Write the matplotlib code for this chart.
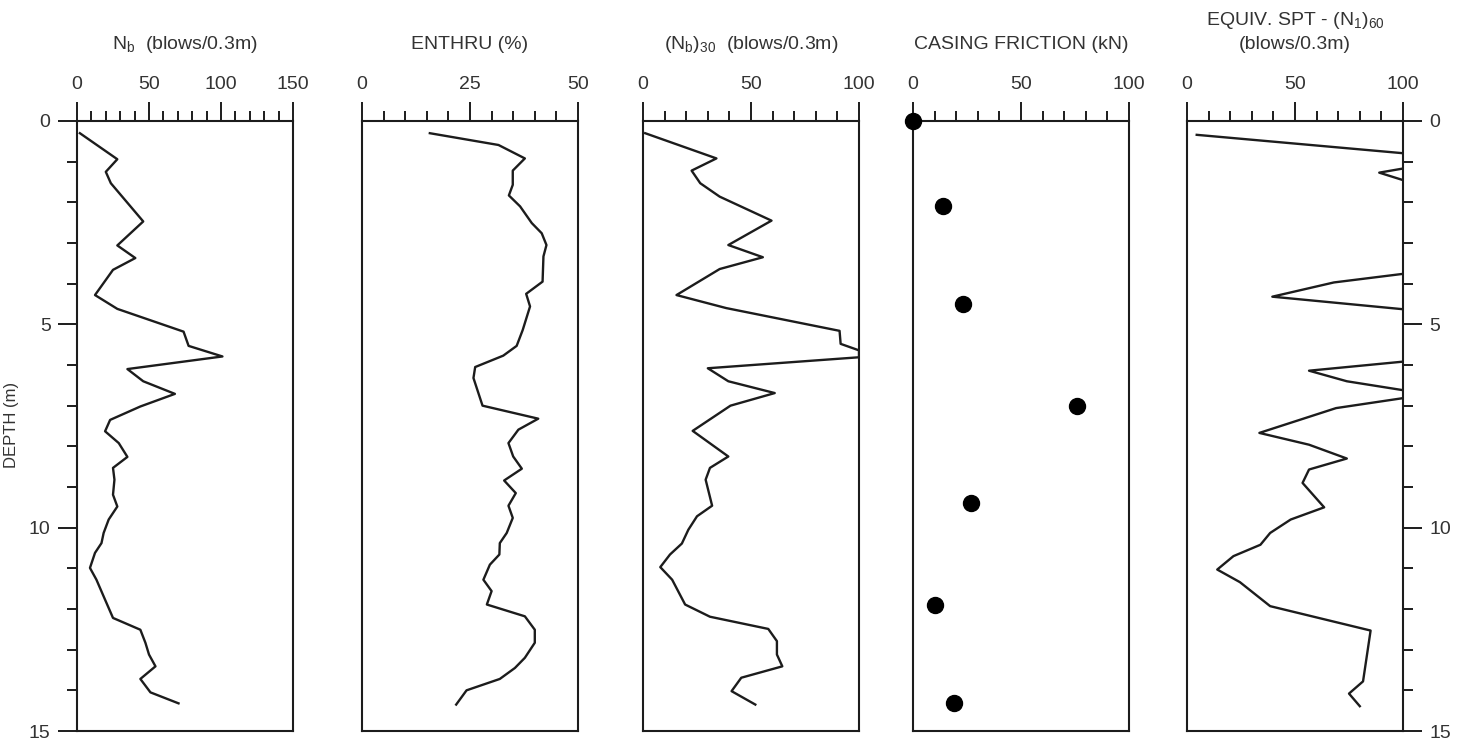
import matplotlib
matplotlib.use('agg')
import matplotlib.pyplot as plt
from matplotlib import font_manager
from matplotlib.ticker import MultipleLocator

# narrow sans if the system has it, plain Liberation otherwise
names = {f.name for f in font_manager.fontManager.ttflist}
font = 'Liberation Sans Narrow' if 'Liberation Sans Narrow' in names else 'Liberation Sans'
plt.rcParams['font.family'] = [font, 'DejaVu Sans']

ink = '#1c1c1c'
txt = '#333333'

# blow counts N_b (blows/0.3m)
depth_nb = [0.3, 0.94, 1.25, 1.53, 2.47, 3.06, 3.37, 3.66, 4.28, 4.62, 5.18, 5.53, 5.79,
            6.1, 6.4, 6.71, 7.02, 7.35, 7.63, 7.92, 8.26, 8.53, 8.82, 9.19, 9.48, 9.8,
            10.13, 10.38, 10.62, 10.99, 11.28, 11.69, 12.22, 12.51, 12.83, 13.12, 13.41,
            13.72, 14.05, 14.32]
nb = [2, 28, 20, 23.5, 46, 28, 40.5, 25, 12.5, 28, 74, 77.5, 101,
      35, 46, 68, 44, 23, 19.5, 29, 35, 25, 26, 25, 28, 22,
      18.5, 17, 12.5, 9, 13.5, 18.5, 25, 44, 47.5, 50, 54.5,
      44, 51, 70.5]

# energy transfer ENTHRU (%)
depth_en = [0.3, 0.59, 0.92, 1.22, 1.57, 1.83, 2.1, 2.51, 2.76, 3.05, 3.33, 3.95, 4.25,
            4.56, 5.14, 5.53, 5.77, 6.05, 6.32, 7.0, 7.32, 7.59, 7.92, 8.25, 8.55, 8.84,
            9.15, 9.46, 9.76, 10.13, 10.38, 10.66, 10.91, 11.28, 11.56, 11.89, 12.18,
            12.51, 12.83, 13.2, 13.45, 13.72, 14.0, 14.35]
enthru = [15.7, 31.6, 37.7, 34.9, 34.9, 34, 36.6, 39.3, 41.6, 42.7, 42, 41.8, 38,
          38.9, 37.2, 35.8, 32.7, 26.2, 25.8, 27.9, 40.8, 36.2, 33.9, 35, 37, 32.9,
          35.6, 33.9, 34.9, 33.5, 31.9, 31.8, 29.6, 28.1, 30, 28.9, 37.7,
          40, 40, 37.7, 35.4, 31.9, 24.2, 21.8]

# (N_b)30 (blows/0.3m)
depth_n30 = [0.3, 0.92, 1.22, 1.53, 1.86, 2.45, 3.05, 3.35, 3.64, 4.28, 4.6, 5.16, 5.48,
             5.64, 5.81, 6.08, 6.4, 6.69, 7.0, 7.62, 8.25, 8.53, 8.82, 9.46, 9.72, 10.05,
             10.39, 10.66, 10.97, 11.28, 11.89, 12.19, 12.49, 12.79, 13.12, 13.41, 13.69,
             14.02, 14.35]
nb30 = [1, 34, 22.5, 26.5, 35.5, 59.5, 39.5, 55.5, 35.5, 15.5, 38.5, 91, 91.5,
        100, 100, 30, 39.5, 61, 40.5, 23, 39.5, 31, 29, 32, 25, 21,
        18, 12.5, 8, 13.5, 19.5, 31, 58, 62, 62, 64.5, 45.5,
        41, 52]

# casing friction (kN)
depth_cf = [0, 2.1, 4.5, 7.0, 9.4, 11.9, 14.3]
casing = [0, 14, 23, 76, 27, 10, 19]

# equivalent SPT (N1)60 (blows/0.3m), values above 100 run off the scale
depth_n60 = [0.34, 0.92, 1.27, 1.57, 1.86, 2.45, 3.05, 3.35, 3.64, 3.97, 4.32, 4.7, 5.16,
             5.48, 5.81, 6.14, 6.4, 6.72, 7.06, 7.67, 7.96, 8.3, 8.57, 8.9, 9.5, 9.8,
             10.13, 10.42, 10.7, 11.03, 11.34, 11.93, 12.53, 13.78, 14.08, 14.39]
n160 = [4.5, 127, 89, 107, 130, 190, 125, 165, 118, 68, 39.5, 114, 200,
        200, 121, 56.5, 74, 112, 69, 33.5, 56.5, 74, 56.5, 53.5, 63.5, 48,
        38.5, 34, 21.5, 14, 24.5, 38.5, 85, 81.5, 75, 80]

W, H = 1469, 747
fig = plt.figure(figsize=(W / 100, H / 100), dpi=100)

lefts = [77, 362, 643, 913, 1187]
top, bottom, width = 121, 731, 216
xmax = [150, 50, 100, 100, 100]
xmajor = [50, 25, 50, 50, 50]
xminor = [10, 5, 10, 10, 10]
titles = [r'$\mathregular{N_b}$  (blows/0.3m)',
          'ENTHRU (%)',
          r'$\mathregular{(N_b)_{30}}$  (blows/0.3m)',
          'CASING FRICTION (kN)',
          'EQUIV. SPT - $\\mathregular{(N_1)_{60}}$\n(blows/0.3m)']

axes = []
for i, l in enumerate(lefts):
    ax = fig.add_axes([l / W, 1 - bottom / H, width / W, (bottom - top) / H])
    ax.set_xlim(0, xmax[i])
    ax.set_ylim(15, 0)
    ax.xaxis.set_major_locator(MultipleLocator(xmajor[i]))
    ax.xaxis.set_minor_locator(MultipleLocator(xminor[i]))
    ax.yaxis.set_major_locator(MultipleLocator(5))
    ax.yaxis.set_minor_locator(MultipleLocator(1))
    ax.tick_params(axis='x', which='both', direction='out', top=True, bottom=False,
                   labeltop=True, labelbottom=False, color=ink, width=1.4,
                   labelsize=14, labelcolor=txt, pad=6)
    ax.tick_params(axis='x', which='major', length=14)
    ax.tick_params(axis='x', which='minor', length=7)
    ax.tick_params(axis='y', which='both', direction='out', left=False, right=False,
                   labelleft=False, labelright=False, color=ink, width=1.4,
                   labelsize=14, labelcolor=txt, pad=5)
    ax.tick_params(axis='y', which='major', length=14)
    ax.tick_params(axis='y', which='minor', length=7)
    for s in ax.spines.values():
        s.set_color(ink)
        s.set_linewidth(1.5)
    cx = (l + width / 2) / W
    fig.text(cx, 1 - 49 / H, titles[i], ha='center', va='baseline',
             fontsize=14, color=txt, linespacing=1.35)
    axes.append(ax)

# depth scale on the outer panels
axes[0].tick_params(axis='y', which='both', left=True, labelleft=True)
axes[4].tick_params(axis='y', which='both', right=True, labelright=True)
fig.text(12 / W, 1 - 425 / H, 'DEPTH (m)', rotation=90, ha='center', va='center',
         fontsize=12, color=txt)

axes[0].plot(nb, depth_nb, color=ink, lw=1.7)
axes[1].plot(enthru, depth_en, color=ink, lw=1.7)
axes[2].plot(nb30, depth_n30, color=ink, lw=1.7)
axes[3].plot(casing, depth_cf, 'o', color='black', ms=11.5, clip_on=False, zorder=5)
axes[4].plot(n160, depth_n60, color=ink, lw=1.7)

fig.savefig('out.png', dpi=100)
